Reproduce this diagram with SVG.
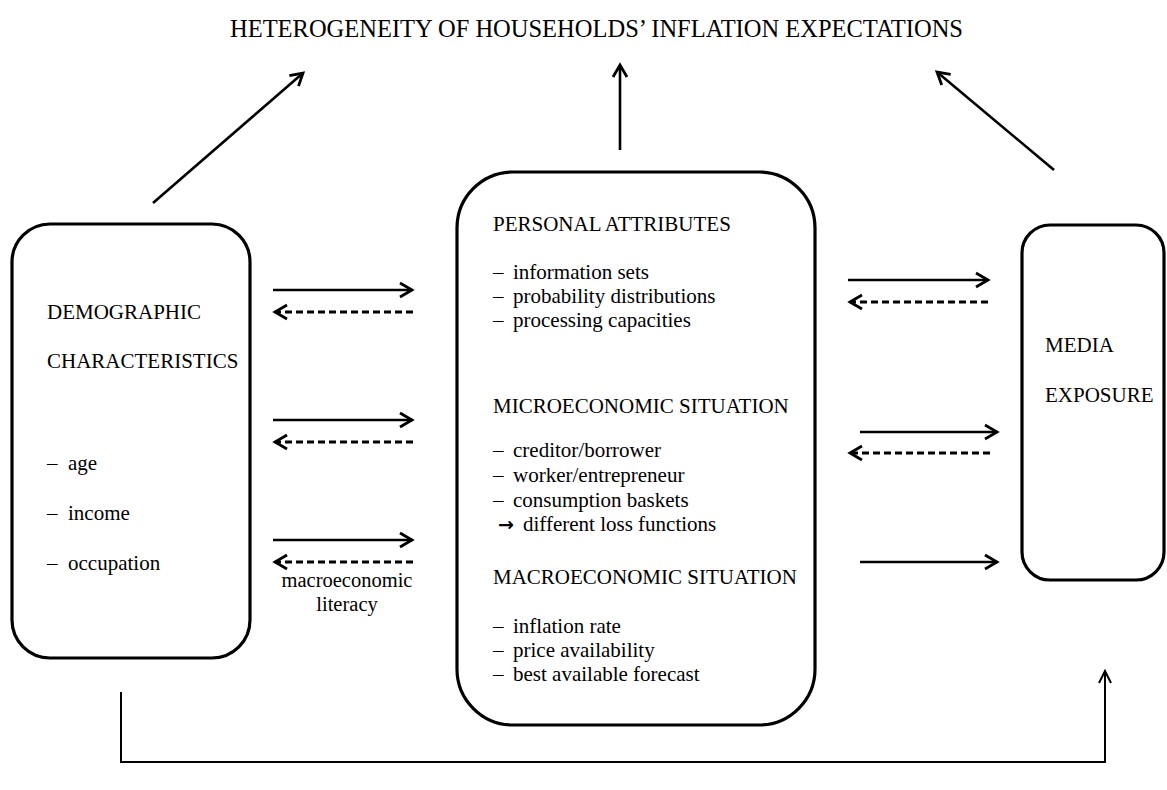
<svg xmlns="http://www.w3.org/2000/svg" width="1167" height="790" viewBox="0 0 1167 790">
<style>
text{font-family:"Liberation Serif","Times New Roman","DejaVu Serif",serif;font-size:21px;fill:#000}
.title{font-size:24.5px}
.small{font-size:20.5px}
.arr{font-family:"DejaVu Sans",sans-serif;font-size:19px;font-weight:bold}
.box{fill:#fff;stroke:#000;stroke-width:3.2}
.ln{fill:none;stroke:#000;stroke-width:2.6}
.dash{stroke-dasharray:7 4;stroke-width:3}
.thin{stroke-width:2}
</style>
<defs>
<marker id="ah" markerUnits="userSpaceOnUse" markerWidth="20" markerHeight="20" viewBox="-15 -10 17 20" refX="0" refY="0" orient="auto">
<path d="M-12,-7 L0,0 L-12,7" fill="none" stroke="#000" stroke-width="2.8"/>
</marker>
<marker id="ahs" markerUnits="userSpaceOnUse" markerWidth="20" markerHeight="20" viewBox="-15 -10 17 20" refX="0" refY="0" orient="auto">
<path d="M-12,-6 L0,0 L-12,6" fill="none" stroke="#000" stroke-width="2"/>
</marker>
</defs>
<text class="title" x="230" y="37">HETEROGENEITY OF HOUSEHOLDS’ INFLATION EXPECTATIONS</text>
<g id="demographic">
<rect class="box" x="12" y="224" width="238" height="434" rx="38"/>
<text x="47" y="319">DEMOGRAPHIC</text>
<text x="47" y="368">CHARACTERISTICS</text>
<text x="47" y="470">–</text><text x="68" y="470">age</text>
<text x="47" y="520">–</text><text x="68" y="520">income</text>
<text x="47" y="570">–</text><text x="68" y="570">occupation</text>
</g>
<g id="personal">
<rect class="box" x="457" y="172" width="358" height="553" rx="56"/>
<text x="493" y="231">PERSONAL ATTRIBUTES</text>
<text x="493" y="279">–</text><text x="513" y="279">information sets</text>
<text x="493" y="303">–</text><text x="513" y="303">probability distributions</text>
<text x="493" y="327">–</text><text x="513" y="327">processing capacities</text>
<text x="493" y="413">MICROECONOMIC SITUATION</text>
<text x="493" y="457">–</text><text x="513" y="457">creditor/borrower</text>
<text x="493" y="482">–</text><text x="513" y="482">worker/entrepreneur</text>
<text x="493" y="507">–</text><text x="513" y="507">consumption baskets</text>
<text class="arr" x="498" y="531">→</text><text x="523" y="531">different loss functions</text>
<text x="493" y="584">MACROECONOMIC SITUATION</text>
<text x="493" y="633">–</text><text x="513" y="633">inflation rate</text>
<text x="493" y="657">–</text><text x="513" y="657">price availability</text>
<text x="493" y="681">–</text><text x="513" y="681">best available forecast</text>
</g>
<g id="media">
<rect class="box" x="1022" y="225" width="142" height="355" rx="28"/>
<text x="1045" y="352">MEDIA</text>
<text x="1045" y="402">EXPOSURE</text>
</g>
<g id="connectors">
<line class="ln" x1="153" y1="203" x2="303" y2="73" marker-end="url(#ah)"/>
<line class="ln" x1="620" y1="150" x2="620" y2="65" marker-end="url(#ah)"/>
<line class="ln" x1="1054" y1="170" x2="937" y2="72" marker-end="url(#ah)"/>
<line class="ln" x1="273" y1="290" x2="412" y2="290" marker-end="url(#ah)"/>
<line class="ln dash" x1="413" y1="312" x2="275" y2="312" marker-end="url(#ah)"/>
<line class="ln" x1="273" y1="420" x2="412" y2="420" marker-end="url(#ah)"/>
<line class="ln dash" x1="413" y1="442" x2="275" y2="442" marker-end="url(#ah)"/>
<line class="ln" x1="273" y1="540" x2="412" y2="540" marker-end="url(#ah)"/>
<line class="ln dash" x1="413" y1="562" x2="275" y2="562" marker-end="url(#ah)"/>
<line class="ln" x1="848" y1="280" x2="988" y2="280" marker-end="url(#ah)"/>
<line class="ln dash" x1="988" y1="302" x2="850" y2="302" marker-end="url(#ah)"/>
<line class="ln" x1="860" y1="432" x2="997" y2="432" marker-end="url(#ah)"/>
<line class="ln dash" x1="990" y1="453" x2="850" y2="453" marker-end="url(#ah)"/>
<line class="ln" x1="860" y1="562" x2="997" y2="562" marker-end="url(#ah)"/>
<polyline class="ln thin" points="121,692 121,762 1105,762 1105,671" marker-end="url(#ahs)"/>
<text class="small" x="347" y="587" text-anchor="middle">macroeconomic</text>
<text class="small" x="347" y="611" text-anchor="middle">literacy</text>
</g>
</svg>
